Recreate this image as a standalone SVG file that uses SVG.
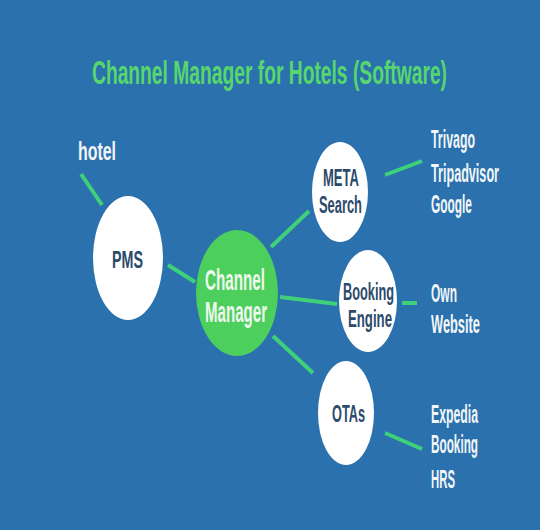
<svg xmlns="http://www.w3.org/2000/svg" width="540" height="530" viewBox="0 0 540 530">
<style>
text{font-family:"Liberation Sans","DejaVu Sans",sans-serif;font-weight:bold;}
.w{fill:#ffffff;}
.nd{fill:#2c4a6a;font-size:24px;}
.lbl{fill:#f2f6f8;font-size:26px;}
.cm{fill:#eef8ee;font-size:29px;}
.ln{stroke:#3fd07a;stroke-width:4;stroke-linecap:butt;fill:none;}
</style>
<rect x="0" y="0" width="540" height="530" fill="#2a71ad"/>
<text transform="translate(92,84) scale(0.5,1)" fill="#57d66e" font-size="33" textLength="710" lengthAdjust="spacingAndGlyphs">Channel Manager for Hotels (Software)</text>
<g id="connectors">
<line class="ln" x1="81" y1="174" x2="102" y2="205"/>
<line class="ln" x1="168" y1="265" x2="195" y2="282"/>
<line class="ln" x1="271" y1="247" x2="309" y2="211"/>
<line class="ln" x1="280" y1="297" x2="337" y2="304"/>
<line class="ln" x1="273" y1="336" x2="313" y2="373"/>
<line class="ln" x1="385" y1="175" x2="422" y2="161"/>
<line class="ln" x1="402" y1="303" x2="417" y2="303"/>
<line class="ln" x1="385" y1="433" x2="422" y2="449"/>
</g>
<g id="hotel"><text class="lbl" transform="translate(78,160) scale(0.5,1)" textLength="76" lengthAdjust="spacingAndGlyphs">hotel</text></g>
<g id="pms">
<ellipse class="w" cx="128" cy="258" rx="35" ry="62"/>
<text class="nd" transform="translate(112,268) scale(0.5,1)" font-size="30" textLength="62" lengthAdjust="spacingAndGlyphs">PMS</text>
</g>
<g id="channel-manager">
<ellipse cx="237" cy="293" rx="41" ry="63" fill="#4ccf5c"/>
<text class="cm" transform="translate(205,290) scale(0.5,1)" textLength="120" lengthAdjust="spacingAndGlyphs">Channel</text>
<text class="cm" transform="translate(205,322) scale(0.5,1)" textLength="124" lengthAdjust="spacingAndGlyphs">Manager</text>
</g>
<g id="meta-search">
<ellipse class="w" cx="340" cy="192" rx="28" ry="50"/>
<text class="nd" transform="translate(323,186) scale(0.5,1)" textLength="72" lengthAdjust="spacingAndGlyphs">META</text>
<text class="nd" transform="translate(319,213) scale(0.5,1)" textLength="86" lengthAdjust="spacingAndGlyphs">Search</text>
</g>
<g id="booking-engine">
<ellipse class="w" cx="368" cy="301" rx="29" ry="51"/>
<text class="nd" transform="translate(343,300) scale(0.5,1)" textLength="102" lengthAdjust="spacingAndGlyphs">Booking</text>
<text class="nd" transform="translate(348,327) scale(0.5,1)" textLength="88" lengthAdjust="spacingAndGlyphs">Engine</text>
</g>
<g id="otas">
<ellipse class="w" cx="346" cy="413" rx="28" ry="52"/>
<text class="nd" transform="translate(332,422) scale(0.5,1)" font-size="26" textLength="66" lengthAdjust="spacingAndGlyphs">OTAs</text>
</g>
<g id="meta-targets">
<text class="lbl" transform="translate(431,148) scale(0.5,1)" textLength="88" lengthAdjust="spacingAndGlyphs">Trivago</text>
<text class="lbl" transform="translate(431,182) scale(0.5,1)" textLength="136" lengthAdjust="spacingAndGlyphs">Tripadvisor</text>
<text class="lbl" transform="translate(431,213) scale(0.5,1)" textLength="82" lengthAdjust="spacingAndGlyphs">Google</text>
</g>
<g id="own-website">
<text class="lbl" transform="translate(431,302) scale(0.5,1)" textLength="52" lengthAdjust="spacingAndGlyphs">Own</text>
<text class="lbl" transform="translate(431,333) scale(0.5,1)" textLength="98" lengthAdjust="spacingAndGlyphs">Website</text>
</g>
<g id="ota-targets">
<text class="lbl" transform="translate(431,423) scale(0.5,1)" textLength="94" lengthAdjust="spacingAndGlyphs">Expedia</text>
<text class="lbl" transform="translate(431,453) scale(0.5,1)" textLength="94" lengthAdjust="spacingAndGlyphs">Booking</text>
<text class="lbl" transform="translate(431,488) scale(0.5,1)" textLength="48" lengthAdjust="spacingAndGlyphs">HRS</text>
</g>
</svg>
